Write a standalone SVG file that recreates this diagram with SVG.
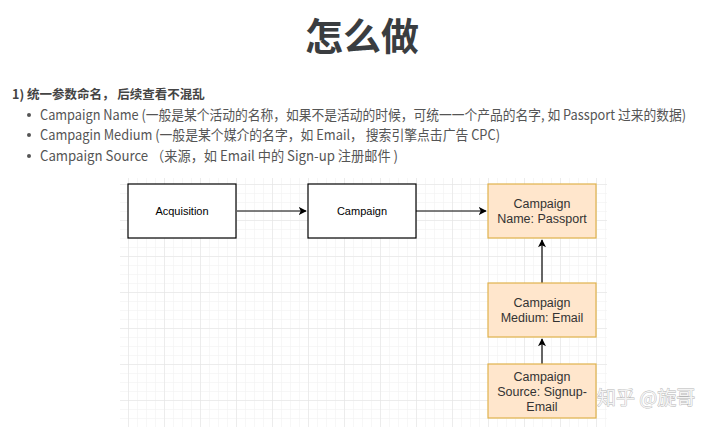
<svg xmlns="http://www.w3.org/2000/svg" width="720" height="427" viewBox="0 0 720 427">
<defs>
<pattern id="minor" x="128" y="184" width="9" height="9" patternUnits="userSpaceOnUse"><path d="M0 0H9M0 0V9" fill="none" stroke="#efefef" stroke-width="1"/></pattern>
<pattern id="major" x="128" y="184" width="36" height="36" patternUnits="userSpaceOnUse"><path d="M0 0H36M0 0V36" fill="none" stroke="#e2e2e2" stroke-width="1"/></pattern>
<marker id="arr" viewBox="0 0 10 10" refX="9" refY="5" markerWidth="8" markerHeight="8" orient="auto" markerUnits="userSpaceOnUse"><path d="M0 0L10 5L0 10L2.5 5Z" fill="#000"/></marker>
<style>
.b{font-family:"Noto Sans CJK SC","Noto Sans",sans-serif;fill:#555;font-size:14px}
.box{fill:#fff;stroke:#000;stroke-width:1.2}
.org{fill:#ffe6cc;stroke:#e0b24c;stroke-width:1.2}
.lbl{font-family:"Liberation Sans",sans-serif;font-size:11px;fill:#000;text-anchor:middle}
.olbl{font-family:"Liberation Sans",sans-serif;font-size:12.5px;fill:#333;text-anchor:middle}
.c{fill:none;stroke:#000;stroke-width:1.2;marker-end:url(#arr)}
</style>
</defs>
<rect width="720" height="427" fill="#fff"/>
<text x="362" y="50" text-anchor="middle" style="font-family:'Noto Sans CJK SC',sans-serif;font-weight:bold;font-size:38px;fill:#3a3d40">怎么做</text>
<text x="12" y="99" style="font-family:'Noto Sans CJK SC',sans-serif;font-weight:bold;font-size:12.5px;fill:#444">1) 统一参数命名， 后续查看不混乱</text>
<g fill="#555"><circle cx="29" cy="115" r="2"/><circle cx="29" cy="135" r="2"/><circle cx="29" cy="156" r="2"/></g>
<text class="b" x="40" y="120" textLength="646" lengthAdjust="spacingAndGlyphs">Campaign Name (一般是某个活动的名称，如果不是活动的时候，可统一一个产品的名字, 如 Passport 过来的数据)</text>
<text class="b" x="40" y="140" textLength="460" lengthAdjust="spacingAndGlyphs">Campagin Medium (一般是某个媒介的名字，如 Email， 搜索引擎点击广告 CPC)</text>
<text class="b" x="40" y="161" textLength="358" lengthAdjust="spacingAndGlyphs">Campaign Source （来源，如 Email 中的 Sign-up 注册邮件 )</text>
<rect x="120" y="178" width="487" height="249" fill="url(#minor)"/>
<rect x="120" y="178" width="487" height="249" fill="url(#major)"/>
<g id="connectors">
<path class="c" d="M237 211H306"/>
<path class="c" d="M416 211H486"/>
<path class="c" d="M542 283V240"/>
<path class="c" d="M542 364V339"/>
</g>
<g id="acquisition"><rect class="box" x="128" y="184" width="108" height="54"/><text class="lbl" x="182" y="215">Acquisition</text></g>
<g id="campaign"><rect class="box" x="308" y="184" width="108" height="54"/><text class="lbl" x="362" y="215">Campaign</text></g>
<g id="name"><rect class="org" x="488" y="184" width="108" height="54"/><text class="olbl" x="542" y="208">Campaign</text><text class="olbl" x="542" y="223">Name: Passport</text></g>
<g id="medium"><rect class="org" x="488" y="283" width="108" height="54"/><text class="olbl" x="542" y="307">Campaign</text><text class="olbl" x="542" y="322">Medium: Email</text></g>
<g id="source"><rect class="org" x="488" y="364" width="108" height="54"/><text class="olbl" x="542" y="381">Campaign</text><text class="olbl" x="542" y="396">Source: Signup-</text><text class="olbl" x="542" y="411">Email</text></g>
<text x="597" y="405" style="font-family:'Noto Sans CJK SC',sans-serif;font-size:19px;fill:#f4f4f4;stroke:#b5b5b5;stroke-width:0.8;paint-order:stroke">知乎 @旋哥</text>
</svg>
